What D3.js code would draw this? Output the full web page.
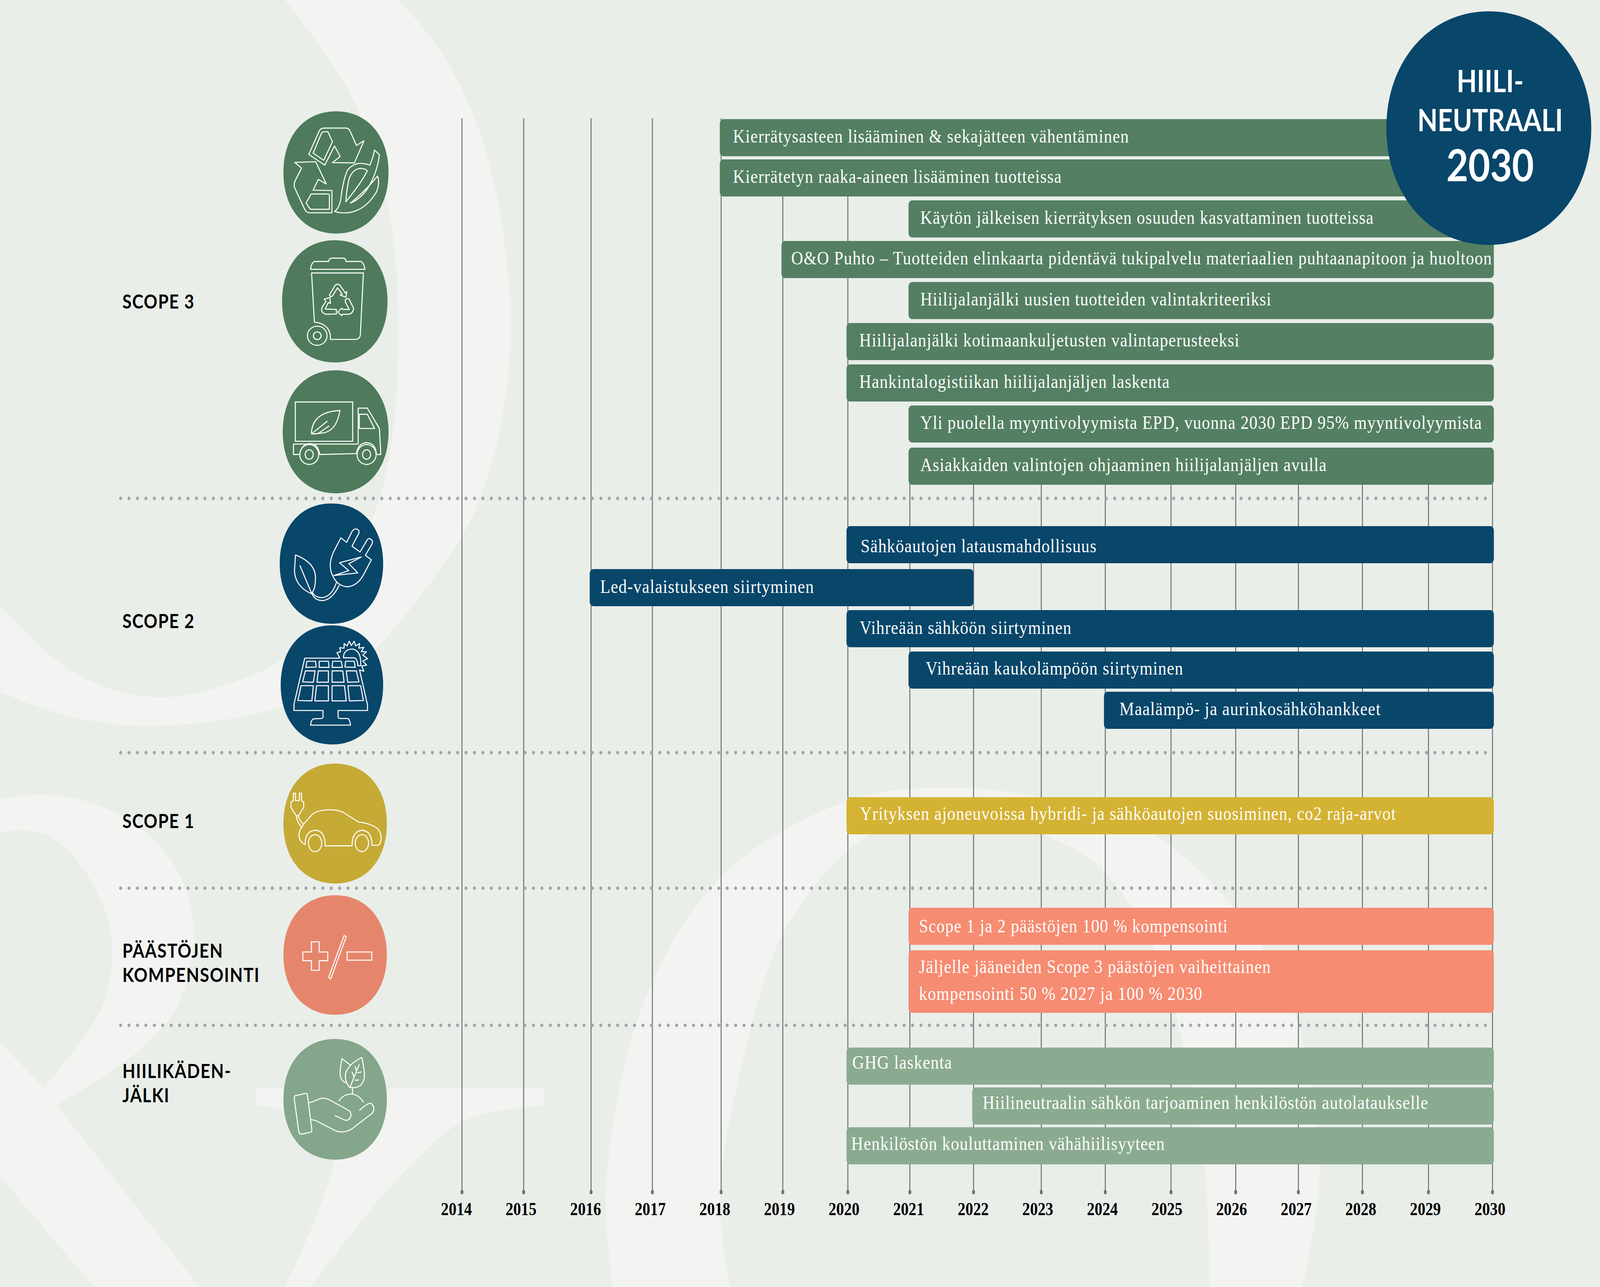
<!DOCTYPE html>
<html lang="fi">
<head>
<meta charset="utf-8">
<title>Hiilineutraali 2030</title>
<script src="https://cdn.jsdelivr.net/npm/d3@7"></script>
<style>
  html, body { margin: 0; padding: 0; background: #e9eee9; overflow: hidden; }
  svg { display: block; width: 100vw; height: 100vh; }
</style>
</head>
<body>
<div id="graph"></div>
<script>
// data
const years = d3.range(2014, 2031);
const groups = ['SCOPE 3', 'SCOPE 2', 'SCOPE 1', 'PÄÄSTÖJEN\nKOMPENSOINTI', 'HIILIKÄDEN-\nJÄLKI'];
const barLabels = [
  'Kierrätysasteen lisääminen & sekajätteen vähentäminen',
  'Kierrätetyn raaka-aineen lisääminen tuotteissa',
  'Käytön jälkeisen kierrätyksen osuuden kasvattaminen tuotteissa',
  'O&O Puhto – Tuotteiden elinkaarta pidentävä tukipalvelu materiaalien puhtaanapitoon ja huoltoon',
  'Hiilijalanjälki uusien tuotteiden valintakriteeriksi',
  'Hiilijalanjälki kotimaankuljetusten valintaperusteeksi',
  'Hankintalogistiikan hiilijalanjäljen laskenta',
  'Yli puolella myyntivolyymista EPD, vuonna 2030 EPD 95% myyntivolyymista',
  'Asiakkaiden valintojen ohjaaminen hiilijalanjäljen avulla',
  'Sähköautojen latausmahdollisuus',
  'Led-valaistukseen siirtyminen',
  'Vihreään sähköön siirtyminen',
  'Vihreään kaukolämpöön siirtyminen',
  'Maalämpö- ja aurinkosähköhankkeet',
  'Yrityksen ajoneuvoissa hybridi- ja sähköautojen suosiminen, co2 raja-arvot',
  'Scope 1 ja 2 päästöjen 100 % kompensointi',
  'Jäljelle jääneiden Scope 3 päästöjen vaiheittainen\nkompensointi 50 % 2027 ja 100 % 2030',
  'GHG laskenta',
  'Hiilineutraalin sähkön tarjoaminen henkilöstön autolataukselle',
  'Henkilöstön kouluttaminen vähähiilisyyteen'
];
const barGroups = [0, 0, 0, 0, 0, 0, 0, 0, 0, 1, 1, 1, 1, 1, 2, 3, 3, 4, 4, 4];
const barStarts = [2018, 2018, 2021, 2019, 2021, 2020, 2020, 2021, 2021, 2020, 2016, 2020, 2021, 2024, 2020, 2021, 2021, 2020, 2022, 2020];
const barEnds = [2030, 2030, 2030, 2030, 2030, 2030, 2030, 2030, 2030, 2030, 2022, 2030, 2030, 2030, 2030, 2030, 2030, 2030, 2030, 2030];

// layout, in the reference's pixels
const W = 4748, H = 3295;
const yearStops = [1371, 1554, 1754, 1936, 2140, 2323, 2516, 2700, 2889, 3090, 3280, 3475, 3667, 3853, 4043, 4239, 4429];
const rowTops = [305, 408, 513, 617, 722, 827, 933, 1038, 1146, 1347, 1457, 1562, 1668, 1771, 2041, 2324, 2433, 2682, 2784, 2886];
const labelInsets = [39, 39, 35, 29, 35, 38, 38, 35, 35, 42, 31, 39, 51, 46, 40, 31, 31, 17, 31, 14];
const labelDrops = [60, 60, 60, 60, 60, 60, 60, 60, 60, 67, 61, 61, 59, 60, 58, 63, 58, 54, 55, 58];
const groupLabelY = [790, 1608, 2120, 2452, 2760];
const dividerY = [1276, 1927, 2274, 2625];
const blobBoxes = [
  [841, 285, 1153, 598, 0], [837, 615, 1150, 928, 0], [839, 948, 1153, 1263, 0],
  [830, 1289, 1137, 1597, 1], [833, 1601, 1137, 1906, 1],
  [841, 1955, 1148, 2262, 2], [841, 2292, 1148, 2598, 3], [841, 2660, 1148, 2969, 4]
];
const barColors = ['#547f62', '#08466a', '#d4b233', '#f68c72', '#8bab90'];
const blobColors = ['#4f7b5c', '#08466a', '#c5aa35', '#e5866c', '#84a68b'];

const x = d3.scaleLinear().domain(years).range(yearStops);
const yearAxisScale = d3.scaleLinear().domain([2014, 2030]).range([1354, 4421]);
const rowY = d3.scaleOrdinal().domain(barLabels).range(rowTops);
const inset = d3.scaleOrdinal().domain(barLabels).range(labelInsets);
const drop = d3.scaleOrdinal().domain(barLabels).range(labelDrops);

const bars = barLabels.map((label, i) => ({
  label: label,
  group: barGroups[i],
  start: barStarts[i],
  end: barEnds[i]
}));

// the window can come out narrower than asked for, so the whole drawing is fitted to it
const svg = d3.select('#graph')
  .append('svg')
  .attr('viewBox', `0 0 ${W} ${H}`)
  .attr('preserveAspectRatio', 'none');

svg.append('rect')
  .attr('width', W)
  .attr('height', H)
  .attr('fill', '#e9eee9');

// pale letterforms behind everything
const curve = d3.line().curve(d3.curveCatmullRom.alpha(0.5));
const swashes = [
  curve([[1182, 0], [1290, 110], [1388, 260], [1464, 461], [1507, 700], [1516, 860], [1486, 1091], [1430, 1260], [1372, 1370], [1085, 1685], [846, 1806], [466, 1858], [217, 1836], [0, 1772]])
    + 'L' + curve([[0, 1549], [217, 1721], [488, 1785], [846, 1685], [976, 1564], [1139, 1236], [1182, 873], [1150, 521], [1041, 242], [846, 0]]).slice(1) + 'Z',
  curve([[0, 2047], [108, 2035], [271, 2056], [434, 2131], [542, 2256], [575, 2398], [531, 2567], [434, 2674], [168, 2830]])
    + 'L591,3295L280,3295L0,3012L0,2670L130,2785'
    + 'L' + curve([[130, 2785], [304, 2576], [331, 2407], [271, 2256], [163, 2149], [65, 2124], [0, 2133]]).slice(1) + 'Z',
  'M759,2787L1613,2787L1613,2831'
    + 'L' + curve([[1613, 2831], [1470, 2845], [1356, 2879], [1139, 3057], [922, 3295]]).slice(1)
    + 'L846,3295'
    + 'L' + curve([[846, 3295], [950, 3090], [992, 2968], [985, 2900], [900, 2850], [759, 2831]]).slice(1) + 'Z',
  curve([[1819, 3295], [1799, 3032], [1906, 2578], [2136, 2248], [2518, 2050], [2840, 2017], [3131, 2050], [3421, 2136], [3666, 2330], [3835, 2578], [3911, 2908], [3911, 3073], [3865, 3295]])
    + 'L' + curve([[3590, 3295], [3574, 2974], [3513, 2685], [3437, 2454], [3268, 2223], [3092, 2136], [2840, 2083], [2580, 2136], [2335, 2372], [2197, 2743], [2136, 3073], [2166, 3295]]).slice(1) + 'Z'
];

svg.append('g')
  .selectAll('path')
  .data(swashes)
  .enter()
  .append('path')
  .attr('d', d => d)
  .attr('fill', '#f3f4f2');

// year lines, the later ones only start below the bars that cover them
const lineTop = yr => yr <= 2018 ? 303 : yr <= 2020 ? rowTops[1] + 50 : 1200;

const grid = svg.append('g');
grid.selectAll('line')
  .data(years)
  .enter()
  .append('line')
  .attr('x1', d => x(d))
  .attr('x2', d => x(d))
  .attr('y1', d => lineTop(d))
  .attr('y2', 3052)
  .attr('stroke', '#6f7577')
  .attr('stroke-width', 3);
grid.selectAll('ellipse')
  .data(years)
  .enter()
  .append('ellipse')
  .attr('cx', d => x(d))
  .attr('cy', 3052)
  .attr('rx', 4.5)
  .attr('ry', 6)
  .attr('fill', '#6f7577');

const yearAxis = d3.axisBottom(yearAxisScale)
  .tickValues(years)
  .tickSize(0)
  .tickPadding(0)
  .tickFormat(d3.format('d'));

svg.append('g')
  .attr('transform', 'translate(0, 3078)')
  .call(yearAxis)
  .call(g => g.select('.domain').remove())
  .selectAll('text')
  .attr('font-family', '"Liberation Serif", serif')
  .attr('font-weight', 700)
  .attr('font-size', 46)
  .attr('fill', '#000');

// dotted dividers
svg.append('g')
  .selectAll('line')
  .data(dividerY)
  .enter()
  .append('line')
  .attr('x1', 358)
  .attr('x2', 4432)
  .attr('y1', d => d)
  .attr('y2', d => d)
  .attr('stroke', '#9fa6a8')
  .attr('stroke-width', 9)
  .attr('stroke-linecap', 'round')
  .attr('stroke-dasharray', '0 25');

// bars
const bar = svg.append('g')
  .selectAll('g')
  .data(bars)
  .enter()
  .append('g');

bar.append('rect')
  .attr('x', d => x(d.start) - 4)
  .attr('y', d => rowY(d.label))
  .attr('width', d => x(d.end) - x(d.start) + (d.end === 2030 ? 8 : 4))
  .attr('height', d => d.label.includes('\n') ? 160 : 95)
  .attr('rx', 11)
  .attr('fill', d => barColors[d.group]);

bar.each(function (d) {
  d3.select(this)
    .selectAll('text')
    .data(d.label.split('\n'))
    .enter()
    .append('text')
    .attr('x', x(d.start) - 4 + inset(d.label))
    .attr('y', (t, i) => rowY(d.label) + drop(d.label) + i * 69)
    .attr('font-family', '"Liberation Serif", serif')
    .attr('font-size', 49)
    .attr('letter-spacing', 1.5)
    .attr('fill', '#fff')
    .text(t => t);
});

// group names on the left
svg.append('g')
  .selectAll('text')
  .data(groups)
  .enter()
  .append('text')
  .attr('font-family', 'Lato, sans-serif')
  .attr('font-weight', 700)
  .attr('font-size', 50)
  .attr('letter-spacing', 2)
  .attr('fill', '#000')
  .each(function (d, i) {
    d3.select(this)
      .selectAll('tspan')
      .data(d.split('\n'))
      .enter()
      .append('tspan')
      .attr('x', 363)
      .attr('y', (t, j) => groupLabelY[i] + j * 62)
      .text(t => t);
  });

// rounded blobs, a bit squarer than an ellipse
function blob(x0, y0, x1, y1, k) {
  const cx = (x0 + x1) / 2, cy = (y0 + y1) / 2;
  const rx = (x1 - x0) / 2, ry = (y1 - y0) / 2;
  const p = d3.path();
  p.moveTo(x1, cy);
  p.bezierCurveTo(x1, cy + ry * k, cx + rx * k, y1, cx, y1);
  p.bezierCurveTo(cx - rx * k, y1, x0, cy + ry * k, x0, cy);
  p.bezierCurveTo(x0, cy - ry * k, cx - rx * k, y0, cx, y0);
  p.bezierCurveTo(cx + rx * k, y0, x1, cy - ry * k, x1, cy);
  p.closePath();
  return p.toString();
}

svg.append('g')
  .selectAll('path')
  .data(blobBoxes)
  .enter()
  .append('path')
  .attr('d', d => blob(d[0], d[1], d[2], d[3], 0.6))
  .attr('fill', d => blobColors[d[4]]);

// line icons, drawn in the coordinates of their own frame
const ell = (cx, cy, rx, ry) =>
  `M${cx - rx} ${cy}A${rx} ${ry} 0 1 0 ${cx + rx} ${cy}A${rx} ${ry} 0 1 0 ${cx - rx} ${cy}Z`;

const frameA = [780, 260, 1 / 1.307, 1 / 2.24];
const frameB = [0, 0, 1 / 0.922, 1 / 0.825];
const frameC = [780, 1260, 1 / 1.568, 1 / 2.24];
const frameD = [780, 1920, 1 / 1.568, 1 / 1.425];

const icons = [
  { frame: frameA, paths: [
    'M235 152L325 152Q335 155 340 175L363 252L392 225L355 352L270 350L300 315L278 255L240 365L178 303L220 165Q225 155 235 152Z',
    'M235 173L252 173L270 230L236 337L195 295L228 180Z',
    'M124 349L205 345L246 473L215 446L195 508L268 510L268 638L180 638Q168 635 163 620L122 490Q120 470 125 455L150 382Z',
    'M187 530L255 530L258 535L258 618L185 618L178 605L168 582Z',
    'M278 630Q300 610 305 530Q315 430 330 390Q355 350 385 355Q405 358 415 365Q428 320 433 278L452 305Q445 400 410 490Q380 560 340 582Q400 510 445 427Q455 470 440 520Q400 620 335 637Q300 642 278 630Z',
    'M322 575Q325 500 335 440Q350 385 380 383Q400 385 405 398Q380 470 322 575Z'
  ] },
  { frame: frameA, paths: [
    'M185 962Q188 925 200 917L255 917Q258 898 268 898L312 898Q322 900 322 917L380 917Q392 925 396 962Z',
    'M189 983L390 983L378 1340Q375 1362 360 1364L262 1364Q265 1275 200 1265Z',
    ell(211, 1343, 38, 55),
    ell(211, 1343, 15, 22),
    'M258 1110L280 1055Q290 1040 300 1055L320 1098L326 1090L322 1122L300 1110L308 1105L290 1068L270 1115Q262 1125 258 1110Z',
    'M238 1133L260 1124L262 1158L254 1152L242 1190L285 1192L285 1218L245 1220Q222 1210 230 1180L245 1145Z',
    'M320 1135Q328 1125 335 1135L352 1185Q350 1218 330 1220L308 1220L306 1228L290 1207L306 1185L310 1192L335 1192L320 1150Z'
  ] },
  { frame: frameB, paths: [
    'M808 849L965 849L965 932L808 932Z',
    'M980 862L1005 862L1038 905L1042 960L1030 960Q1028 936 1003 935Q980 936 975 958L875 960Q870 936 846 937Q825 938 820 960L803 960L803 938L980 938Z',
    'M983 875L1005 875L1025 905L983 905Z',
    ell(846, 960, 26, 21),
    ell(846, 960, 11, 10),
    ell(1003, 960, 26, 21),
    ell(1003, 960, 11, 10),
    'M930 867Q920 915 875 915Q850 918 852 915Q855 870 930 867Z',
    'M855 915L895 890M870 916L900 900'
  ] },
  { frame: frameC, paths: [
    'M363 262L390 288L415 225Q430 200 447 220L447 235L415 310L452 343L485 275Q495 255 510 280L508 298L477 362L505 388L470 470Q440 540 390 543Q345 535 325 480Q300 420 330 340Z',
    'M458 372L357 405L400 450L330 478L442 463L400 410Z',
    'M342 520Q320 600 275 605Q245 605 230 575M355 535Q320 622 275 622Q240 620 228 580',
    'M152 360Q245 405 245 490Q245 560 225 582Q150 540 147 450Z',
    'M173 422L225 575'
  ] },
  { frame: frameC, paths: [
    'M195 952L358 952L345 920L362 915L358 892L378 895L378 868L392 882L402 855L412 880L425 855L432 882L450 868L447 895L470 890L458 915L482 915L465 935L488 955L465 968L483 992L460 997L470 1027L450 1020L487 1220L487 1252L350 1252L350 1290Q352 1298 360 1298L395 1298Q405 1305 408 1336L222 1336Q225 1305 235 1300L272 1298Q282 1295 280 1285L280 1252L145 1252L145 1215Z',
    'M375 950Q375 900 420 900Q460 915 455 995L442 995Q440 955 425 950Z',
    'M205 970L245 970L248 1003L200 1005Z', 'M262 970L305 970L308 1005L262 1005Z', 'M325 970L365 970L370 1005L322 1005Z', 'M385 970L425 970L430 1005L382 1003Z',
    'M198 1025L243 1025L235 1090L185 1088Z', 'M258 1025L305 1025L305 1090L252 1090Z', 'M322 1025L372 1025L378 1090L322 1090Z', 'M388 1025L435 1025L447 1088L395 1090Z',
    'M178 1110L235 1110L228 1197L163 1195Z', 'M250 1110L305 1110L305 1197L242 1197Z', 'M322 1110L380 1110L388 1197L322 1197Z', 'M396 1110L455 1110L468 1195L403 1197Z'
  ] },
  { frame: frameD, paths: [
    'M188 272L230 235Q250 220 310 218Q350 218 375 228L445 263Q500 268 530 285Q552 300 550 325Q548 348 530 348L508 348Q508 295 460 293Q415 297 415 350L290 350Q290 295 245 293Q195 295 197 345Q170 335 168 310Q170 290 185 278Z',
    ell(243, 340, 31, 31),
    ell(461, 340, 31, 31),
    'M142 158L142 185L131 190L131 210L155 240L165 240L190 210L190 190L180 185L180 158L170 158L170 185L152 185L152 158Z',
    'M155 240Q160 268 183 282M165 240Q170 258 190 272'
  ] },
  { frame: frameD, paths: [
    'M226 700L262 700L262 737L302 737L302 769L262 769L262 804L226 804L226 769L186 769L186 737L226 737Z',
    'M378 677L388 681L316 835L306 830Z',
    'M392 737L507 737L507 767L392 767Z'
  ] },
  { frame: frameD, paths: [
    'M148 1262L200 1253Q207 1253 208 1262L228 1385Q228 1395 220 1395L178 1402Q170 1402 167 1392L146 1272Q146 1264 148 1262Z',
    'M213 1287Q240 1283 265 1272Q290 1268 310 1277L400 1315Q415 1325 408 1340Q398 1355 380 1350L336 1334',
    'M222 1348L245 1352L340 1390Q380 1400 415 1382L510 1325Q525 1305 505 1290Q490 1285 450 1315',
    'M355 1280Q375 1255 415 1255Q450 1260 467 1285',
    'M417 1233L417 1255',
    'M460 1122Q475 1170 472 1195Q465 1230 425 1232L405 1232Q380 1210 385 1180Q400 1145 460 1122Z',
    'M408 1150L368 1126Q355 1180 362 1195Q368 1210 390 1215',
    'M448 1148L405 1232M430 1155L435 1170M415 1175L425 1195M440 1178L458 1175M430 1205L446 1204'
  ] }
];

const icon = svg.append('g')
  .selectAll('g')
  .data(icons)
  .enter()
  .append('g')
  .attr('transform', d => `translate(${d.frame[0]},${d.frame[1]}) scale(${d.frame[2]},${d.frame[3]})`);

icon.selectAll('path')
  .data(d => d.paths)
  .enter()
  .append('path')
  .attr('d', d => d)
  .attr('fill', 'none')
  .attr('stroke', '#fff')
  .attr('stroke-width', 2.6)
  .attr('stroke-linejoin', 'round')
  .attr('stroke-linecap', 'round')
  .attr('vector-effect', 'non-scaling-stroke');

// badge in the corner
const badge = svg.append('g');

badge.append('path')
  .attr('d', blob(4114, 29, 4722, 627, 0.575))
  .attr('fill', '#08466a');

const badgeLines = ['HIILI-', 'NEUTRAALI', '2030'];
const badgeBase = [236, 336, 464];
const badgeSizes = [78, 78, 112];

badge.selectAll('text')
  .data(badgeLines)
  .enter()
  .append('text')
  .attr('x', 4422)
  .attr('y', (d, i) => badgeBase[i])
  .attr('text-anchor', 'middle')
  .attr('font-family', 'Lato, sans-serif')
  .attr('font-weight', 700)
  .attr('font-size', (d, i) => badgeSizes[i])
  .attr('fill', '#fff')
  .text(d => d);
</script>
</body>
</html>
